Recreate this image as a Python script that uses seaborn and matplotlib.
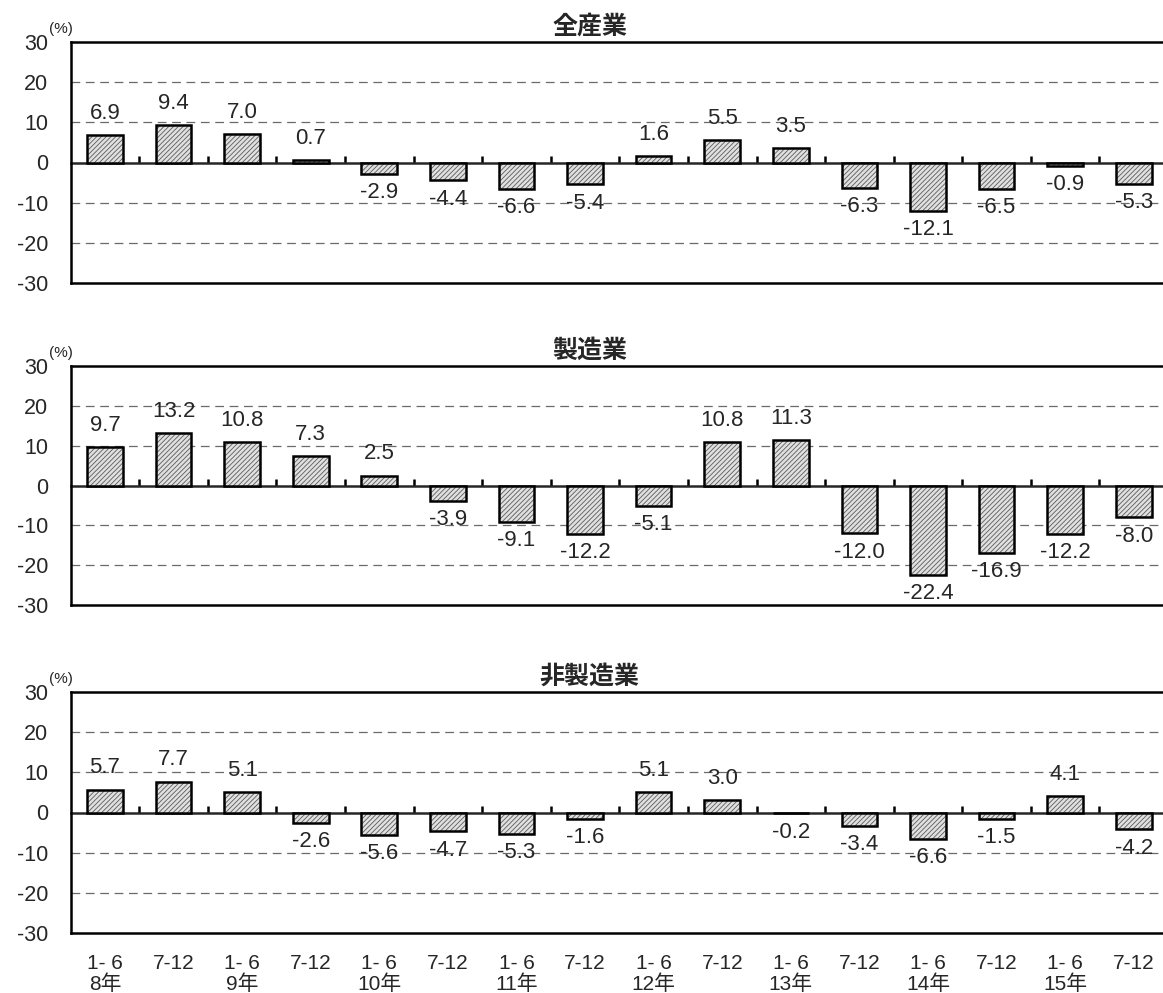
import numpy as np
import pandas as pd
import matplotlib
matplotlib.use("Agg")
import matplotlib.pyplot as plt
import seaborn as sns

# データ
periods = ["1- 6\n8年", "7-12", "1- 6\n9年", "7-12", "1- 6\n10年", "7-12",
           "1- 6\n11年", "7-12", "1- 6\n12年", "7-12", "1- 6\n13年", "7-12",
           "1- 6\n14年", "7-12", "1- 6\n15年", "7-12"]
all_ind = [6.9, 9.4, 7.0, 0.7, -2.9, -4.4, -6.6, -5.4, 1.6, 5.5, 3.5, -6.3, -12.1, -6.5, -0.9, -5.3]
manuf = [9.7, 13.2, 10.8, 7.3, 2.5, -3.9, -9.1, -12.2, -5.1, 10.8, 11.3, -12.0, -22.4, -16.9, -12.2, -8.0]
non_manuf = [5.7, 7.7, 5.1, -2.6, -5.6, -4.7, -5.3, -1.6, 5.1, 3.0, -0.2, -3.4, -6.6, -1.5, 4.1, -4.2]
titles = ["全産業", "製造業", "非製造業"]
yticks = [-30, -20, -10, 0, 10, 20, 30]

sns.set_style("white")
plt.rcParams['font.family'] = ['Liberation Sans', 'Noto Sans CJK JP', 'DejaVu Sans']
plt.rcParams['axes.unicode_minus'] = False
plt.rcParams['hatch.linewidth'] = 0.6

fig = plt.figure(figsize=(11.63, 9.93), dpi=100)
W, H = 1163, 993
# 各パネルの位置 (px)
panel_tops = [42, 366, 692]
panel_bottoms = [283, 605, 933]
left_px, right_px = 70.7, 1168

for k, (vals, title) in enumerate(zip([all_ind, manuf, non_manuf], titles)):
    top, bot = panel_tops[k], panel_bottoms[k]
    ax = fig.add_axes([left_px / W, 1 - bot / H, (right_px - left_px) / W, (bot - top) / H])
    df = pd.DataFrame({"x": list(range(len(vals))), "v": vals})

    # 塗り + ハッチ
    sns.barplot(data=df, x="x", y="v", ax=ax, color="#e0e0e0", width=0.52,
                saturation=1, edgecolor="#5a5a5a", linewidth=0, hatch="///////",
                native_scale=True)
    # 黒枠
    sns.barplot(data=df, x="x", y="v", ax=ax, fill=False, width=0.52,
                edgecolor="black", linewidth=1.8, native_scale=True)

    ax.set_xlim(-0.5, len(vals) - 0.5)
    ax.set_ylim(-30, 30)
    ax.set_yticks(yticks)
    ax.set_yticklabels([str(t) for t in yticks], fontsize=15.5)
    ax.tick_params(axis='y', length=0, pad=16)
    for g in [-20, -10, 10, 20]:
        ax.axhline(g, color="#6a6a6a", lw=0.9, ls=(0, (7, 4.5)), zorder=0)
    ax.set_xlabel("")
    ax.set_ylabel("")

    for side in ["left", "top", "bottom", "right"]:
        ax.spines[side].set_visible(True)
        ax.spines[side].set_linewidth(1.8)
        ax.spines[side].set_color("black")

    ax.set_xticks(range(len(vals)))
    if k == 2:
        ax.set_xticklabels(periods, fontsize=15, linespacing=1.1)
        ax.tick_params(axis='x', length=0, pad=15)
    else:
        ax.set_xticklabels([])
        ax.tick_params(axis='x', length=0)

    # ゼロ線と区切り目盛（上向き）
    sec = ax.secondary_xaxis(0.5)
    sec.set_alignment('bottom')
    sec.set_xticks(np.arange(len(vals) - 1) + 0.5)
    sec.set_xticklabels([])
    sec.tick_params(axis='x', direction='in', length=5, width=1.8, color="black")
    sec.spines['bottom'].set_linewidth(1.8)
    sec.spines['top'].set_linewidth(1.8)

    # 値ラベル
    for i, v in enumerate(vals):
        if v >= 0:
            ax.annotate(f"{v:.1f}", (i, v), xytext=(0, 8), textcoords="offset points",
                        ha="center", va="bottom", fontsize=16, annotation_clip=False)
        else:
            ax.annotate(f"{v:.1f}", (i, v), xytext=(0, -6), textcoords="offset points",
                        ha="center", va="top", fontsize=16, annotation_clip=False)

    ax.set_title(title, fontsize=18, fontweight="bold", x=0.473, y=1.0, pad=6,
                 family=['Noto Sans CJK JP', 'DejaVu Sans'])
    ax.text(-0.009, 1.025, "(%)", transform=ax.transAxes, fontsize=11, ha="center", va="bottom")

fig.savefig("out.png", dpi=100)
